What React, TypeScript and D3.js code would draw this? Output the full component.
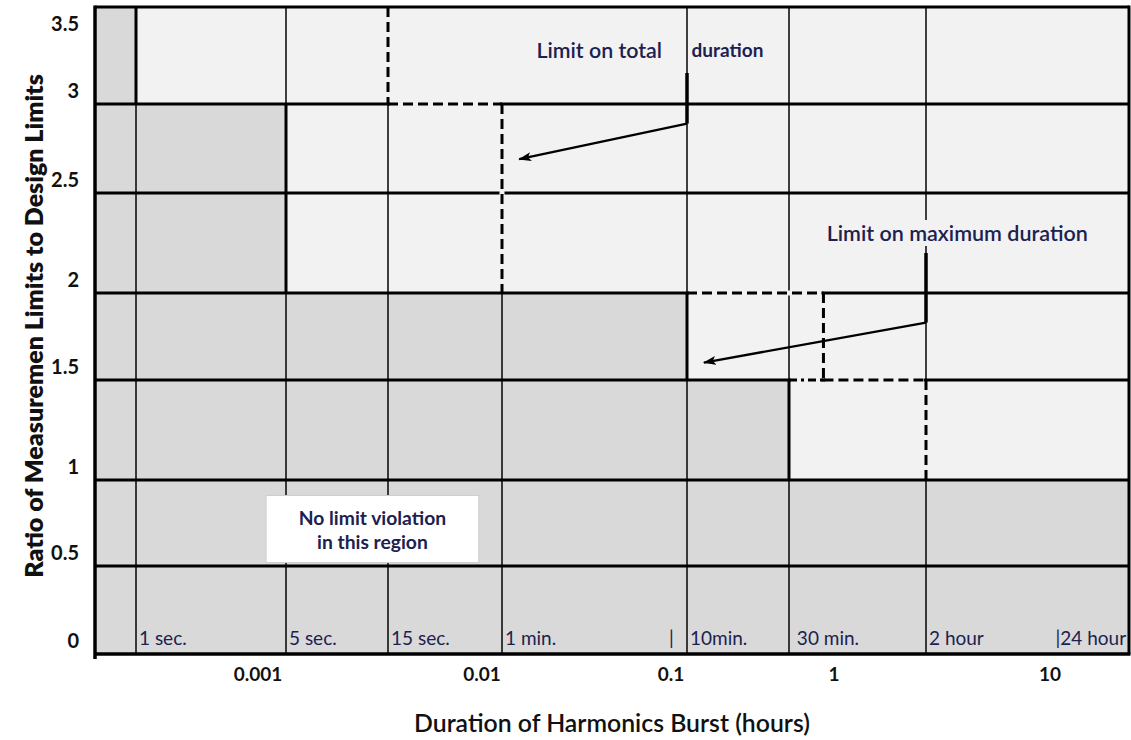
import React, { useLayoutEffect, useRef, useState } from "react";
import * as d3 from "d3";

// ---------------- DATA ----------------
const SEC = 1 / 3600; // one second, in hours

// Duration gridlines (hours) and their in-plot labels
const gridDurations = [1 * SEC, 5 * SEC, 15 * SEC, 60 * SEC, 600 * SEC, 1800 * SEC, 2];
const gridTopRatio = [3.5, 3.5, 3.5, 3, 3.5, 3.5, 3.5];
const durationLabels = ["1 sec.", "5 sec.", "15 sec.", "1 min.", "|", "10min.", " 30 min.", "2 hour", "|24 hour"];
const durationLabelHours = [1 * SEC, 5 * SEC, 15 * SEC, 60 * SEC, 0.1, 600 * SEC, 0.5, 2, 24];

// Numeric x-axis tick labels (hours)
const xTickValues = [0.001, 0.01, 0.1, 1, 10];
const xTickLabels = ["0.001", "0.01", "0.1", "1", "10"];

// Ratio rows and labels
const ratioRows = [0, 0.5, 1, 1.5, 2, 2.5, 3, 3.5];
const ratioLabels = ["0", "0.5", "1", "1.5", "2", "2.5", "3", "3.5"];

// Limit on maximum duration: step function (ratio allowed vs duration)
const maxLimitBreaks = [1 * SEC, 5 * SEC, 600 * SEC, 1800 * SEC];
const maxLimitLevels = [3.5, 3, 2, 1.5, 1];

// Limit on total duration: step function
const totalLimitBreaks = [15 * SEC, 60 * SEC, 0.85, 2];
const totalLimitLevels = [3.5, 3, 2, 1.5, 1];

// dash-dot piece of the 1.5 line
const dashDotFrom = [0.5];
const dashDotTo = [0.85];
const dashDotLevel = [1.5];

// Annotations (data units: hours, ratio)
const totalText = ["Limit on total", "duration"];
const totalTextHours = [0.024, 0.175];
const totalTextRatio = 3.28;
const totalArrowHours = [1 / 6, 1 / 6, 0.02];
const totalArrowRatio = [3.16, 2.89, 2.69];

const maxText = "Limit on maximum duration";
const maxTextHours = 3;
const maxTextRatio = 2.3;
const maxArrowHours = [2, 2, 0.2];
const maxArrowRatio = [2.2, 1.83, 1.6];

const boxLines = ["No limit violation", "in this region"];
const boxHours = [0.0011, 0.0097];
const boxRatio = [0.52, 0.91];

const xTitle = "Duration of Harmonics Burst (hours)";
const yTitle = "Ratio of Measuremen Limits to Design Limits";

// ---------------- LAYOUT ----------------
const W = 1131;
const H = 740;
const xAnchors = [0.0001, 1 * SEC, 0.001, 5 * SEC, 15 * SEC, 0.01, 60 * SEC, 0.1, 600 * SEC, 0.5, 1, 2, 10, 100000];
const xPixels = [95, 136, 258, 286, 388, 482, 502, 671, 687, 789, 834, 926, 1050, 1129];
const yPixels = [654, 566, 480, 380, 293, 193, 104, 7];

const DARK = "#d9d9d9";
const LIGHT = "#f2f2f2";
const FONT = "Lato, 'Open Sans', sans-serif";
const NAVY = "#1c2150";

export default function App() {
  const x = d3.scaleLog().domain(xAnchors).range(xPixels);
  const y = d3.scaleLinear().domain(ratioRows).range(yPixels);
  const [hMin, hMax] = [xAnchors[0], xAnchors[xAnchors.length - 1]];
  const x0 = x(hMin), x1 = x(hMax);
  const yTop = y(3.5), yBot = y(0);

  const maxLimitAt = (h: number) => maxLimitLevels[d3.bisectRight(maxLimitBreaks, h)];

  // cells
  const colEdges = [hMin, ...gridDurations, hMax];
  const cells: { key: string; x: number; y: number; w: number; h: number; fill: string }[] = [];
  for (let i = 0; i < colEdges.length - 1; i++) {
    const mid = Math.sqrt(colEdges[i] * colEdges[i + 1]);
    for (let j = 0; j < ratioRows.length - 1; j++) {
      const dark = ratioRows[j + 1] <= maxLimitAt(mid);
      cells.push({
        key: `c${i}-${j}`,
        x: x(colEdges[i]),
        y: y(ratioRows[j + 1]),
        w: x(colEdges[i + 1]) - x(colEdges[i]),
        h: y(ratioRows[j]) - y(ratioRows[j + 1]),
        fill: dark ? DARK : LIGHT,
      });
    }
  }

  // total-limit dashed segments
  type Seg = { x1: number; y1: number; x2: number; y2: number; dash: string };
  const dashed: Seg[] = [];
  totalLimitBreaks.forEach((h, i) => {
    dashed.push({ x1: x(h), x2: x(h), y1: y(totalLimitLevels[i]), y2: y(totalLimitLevels[i + 1]), dash: "10,5" });
  });
  for (let i = 1; i < totalLimitLevels.length; i++) {
    const L = totalLimitLevels[i];
    const k = maxLimitLevels.findIndex((lv, idx) => idx > 0 && lv < L);
    if (k < 0) continue;
    const maxDrop = maxLimitBreaks[k - 1];
    const start = Math.max(totalLimitBreaks[i - 1], maxDrop);
    const end = i < totalLimitBreaks.length ? totalLimitBreaks[i] : hMax;
    if (end > start) dashed.push({ x1: x(start), x2: x(end), y1: y(L), y2: y(L), dash: "10,5" });
  }
  dashDotFrom.forEach((f, i) => {
    dashed.push({ x1: x(f), x2: x(dashDotTo[i]), y1: y(dashDotLevel[i]), y2: y(dashDotLevel[i]), dash: "8,4,3,4" });
  });

  const inset = (s: Seg, d: number) => {
    if (s.x1 === s.x2) {
      const a = Math.min(s.y1, s.y2) + d, b = Math.max(s.y1, s.y2) - d;
      return { x1: s.x1, x2: s.x2, y1: a, y2: b };
    }
    const a = Math.min(s.x1, s.x2) + d, b = Math.max(s.x1, s.x2) - d;
    return { x1: a, x2: b, y1: s.y1, y2: s.y2 };
  };

  // measure max-label for its background
  const maxRef = useRef<SVGTextElement>(null);
  const [maxBox, setMaxBox] = useState<{ x: number; y: number; w: number; h: number } | null>(null);
  useLayoutEffect(() => {
    if (maxRef.current) {
      const b = maxRef.current.getBBox();
      setMaxBox({ x: b.x, y: b.y, w: b.width, h: b.height });
    }
  }, []);

  const bx0 = x(boxHours[0]), bx1 = x(boxHours[1]);
  const by0 = y(boxRatio[1]), by1 = y(boxRatio[0]);

  const arrowPath = (hs: number[], rs: number[]) =>
    d3.line()(hs.map((h, i) => [x(h), y(rs[i])] as [number, number])) || "";

  return (
    <svg width={W} height={H} style={{ position: "absolute", left: 0, top: 0, background: "#fff" }} fontFamily={FONT}>
      <defs>
        <marker id="ah" viewBox="0 0 13 9" refX="12" refY="4.5" markerWidth="13" markerHeight="9" markerUnits="userSpaceOnUse" orient="auto">
          <path d="M0,0 L13,4.5 L0,9 L3,4.5 Z" fill="#000" />
        </marker>
      </defs>

      {/* cells */}
      {cells.map((c) => (
        <rect key={c.key} x={c.x} y={c.y} width={c.w} height={c.h} fill={c.fill} />
      ))}

      {/* thin vertical gridlines */}
      {gridDurations.map((h, i) => (
        <line key={`vg${i}`} x1={x(h)} x2={x(h)} y1={yBot} y2={y(gridTopRatio[i])} stroke="#111" strokeWidth={1.6} />
      ))}

      {/* max-duration boundary (thick steps) */}
      {maxLimitBreaks.map((h, i) => (
        <line key={`mx${i}`} x1={x(h)} x2={x(h)} y1={y(maxLimitLevels[i])} y2={y(maxLimitLevels[i + 1])} stroke="#000" strokeWidth={3} />
      ))}

      {/* horizontal gridlines */}
      {ratioRows.slice(1).map((r) => (
        <line key={`hg${r}`} x1={x0} x2={x1} y1={y(r)} y2={y(r)} stroke="#000" strokeWidth={3} />
      ))}
      {/* right border */}
      <line x1={x1} x2={x1} y1={yTop - 1.5} y2={yBot} stroke="#000" strokeWidth={3} />
      {/* axes */}
      <line x1={x0} x2={x1 + 1.5} y1={yBot} y2={yBot} stroke="#000" strokeWidth={3.5} />
      <line x1={x0} x2={x0} y1={yTop - 1.5} y2={yBot + 5} stroke="#000" strokeWidth={3.5} />

      {/* erasers + dashed total-duration limit */}
      {dashed.map((s, i) => {
        const e = inset(s, 2);
        return <line key={`er${i}`} {...e} stroke={LIGHT} strokeWidth={5} />;
      })}
      {dashed.map((s, i) => (
        <line key={`ds${i}`} x1={s.x1} x2={s.x2} y1={s.y1} y2={s.y2} stroke="#000" strokeWidth={3} strokeDasharray={s.dash} />
      ))}

      {/* no-violation box */}
      <rect x={bx0} y={by0} width={bx1 - bx0} height={by1 - by0} fill="#fff" stroke="#cfcfcf" strokeWidth={1} />
      {boxLines.map((t, i) => (
        <text key={`bl${i}`} x={(bx0 + bx1) / 2} y={(by0 + by1) / 2 + (i - 0.5) * 24} textAnchor="middle" dominantBaseline="central" fontSize={19.3} fontWeight={700} fill={NAVY}>
          {t}
        </text>
      ))}

      {/* connectors */}
      <line x1={x(totalArrowHours[0])} x2={x(totalArrowHours[1])} y1={y(totalArrowRatio[0])} y2={y(totalArrowRatio[1])} stroke="#000" strokeWidth={3.5} />
      <path d={arrowPath(totalArrowHours.slice(1), totalArrowRatio.slice(1))} stroke="#000" strokeWidth={2.4} fill="none" markerEnd="url(#ah)" />
      <line x1={x(maxArrowHours[0])} x2={x(maxArrowHours[1])} y1={y(maxArrowRatio[0])} y2={y(maxArrowRatio[1])} stroke="#000" strokeWidth={3.5} />
      <path d={arrowPath(maxArrowHours.slice(1), maxArrowRatio.slice(1))} stroke="#000" strokeWidth={2.4} fill="none" markerEnd="url(#ah)" />

      {/* annotation texts */}
      {totalText.map((t, i) => (
        <text key={`tt${i}`} x={x(totalTextHours[i])} y={y(totalTextRatio)} dominantBaseline="central" fontSize={i === 0 ? 21.4 : 19} fontWeight={i === 0 ? 600 : 700} fill={NAVY}>
          {t}
        </text>
      ))}
      {maxBox && <rect x={maxBox.x - 2} y={maxBox.y} width={maxBox.w + 4} height={maxBox.h} fill={LIGHT} />}
      <text ref={maxRef} x={x(maxTextHours)} y={y(maxTextRatio)} textAnchor="middle" dominantBaseline="central" fontSize={21.5} fontWeight={600} fill={NAVY}>
        {maxText}
      </text>

      {/* in-plot duration labels */}
      {durationLabels.map((t, i) => (
        <text key={`dl${i}`} x={x(durationLabelHours[i]) + (t.startsWith("|") ? -2 : 3)} y={yBot - 9} fontSize={19} fill={NAVY} style={{ whiteSpace: "pre" }}>
          {t}
        </text>
      ))}

      {/* x tick labels */}
      {xTickValues.map((v, i) => (
        <text key={`xt${i}`} x={x(v)} y={yBot + 19} textAnchor="middle" dominantBaseline="central" fontSize={19} fontWeight={700} fill="#111">
          {xTickLabels[i]}
        </text>
      ))}

      {/* y tick labels */}
      {ratioRows.map((r, i) => (
        <text key={`yt${i}`} x={x0 - 16} y={Math.max(y(r) - 14, yTop + 16)} textAnchor="end" dominantBaseline="central" fontSize={20} fontWeight={700} fill="#111">
          {ratioLabels[i]}
        </text>
      ))}

      {/* axis titles */}
      <text x={(x0 + x1) / 2} y={722} textAnchor="middle" dominantBaseline="central" fontSize={24.8} fontWeight={600} fill="#111">
        {xTitle}
      </text>
      <text transform={`translate(33,326) rotate(-90)`} textAnchor="middle" dominantBaseline="central" fontSize={25} fontWeight={800} fill="#111">
        {yTitle}
      </text>
    </svg>
  );
}
